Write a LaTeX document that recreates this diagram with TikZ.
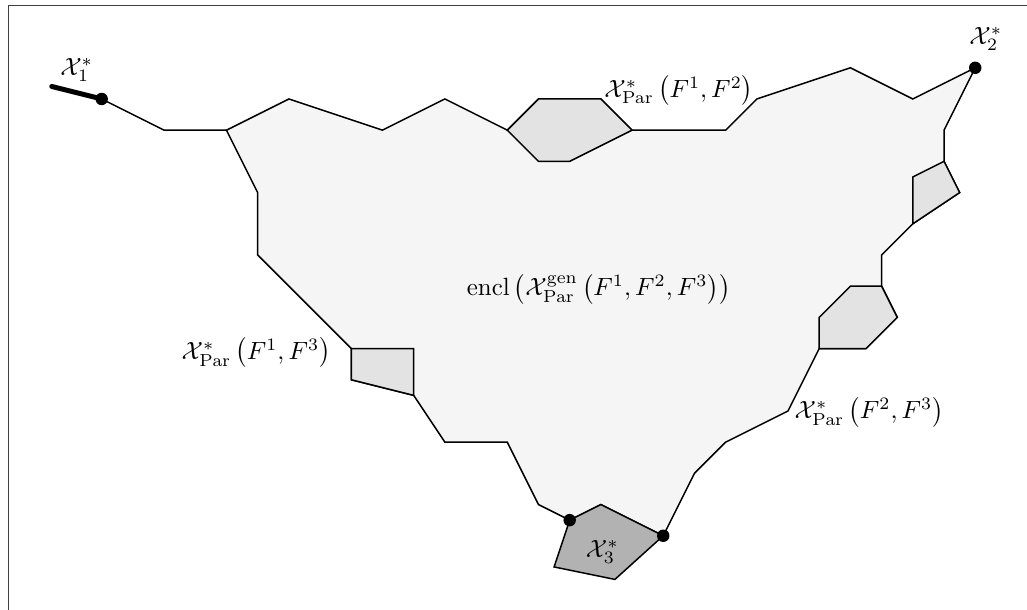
\documentclass[tikz,border=0pt]{standalone}
\usepackage{amsmath}
\begin{document}
\begin{tikzpicture}[x=0.44cm,y=0.44cm,
  edge/.style={draw=black,line width=0.6pt,line join=miter},
  region/.style={edge,fill=black!4},
  facet/.style={edge,fill=black!11},
  vertexfacet/.style={edge,fill=black!30},
  dotmark/.style={circle,fill=black,inner sep=0pt,minimum size=5pt},
  lbl/.style={inner sep=0pt},
  frameline/.style={draw=black!75,line width=0.4pt}]
\useasboundingbox (-3.26,-16.38) rectangle (29.66,3.173);
\clip (-3.26,-16.38) rectangle (29.66,3.173);
\draw[frameline] (-3,3) rectangle (32,-18);
% region
\path[region] (4,-1) -- (6,0) -- (9,-1) -- (11,0) -- (13,-1) -- (14,0) -- (16,0) -- (17,-1)
  -- (20,-1) -- (21,0) -- (24,1) -- (26,0) -- (28,1) -- (27,-1) -- (27,-2) -- (27.5,-3)
  -- (26,-4) -- (25,-5) -- (25,-6) -- (25.5,-7) -- (24.5,-8) -- (23,-8) -- (22,-10)
  -- (20,-11) -- (19,-12) -- (18,-14) -- (16,-13) -- (15,-13.5) -- (14,-13) -- (13,-11)
  -- (11,-11) -- (10,-9.5) -- (8,-9) -- (8,-8) -- (5,-5) -- (5,-3) -- cycle;
% facets
\path[facet] (13,-1) -- (14,0) -- (16,0) -- (17,-1) -- (15,-2) -- (14,-2) -- cycle;
\path[facet] (27,-2) -- (26,-2.5) -- (26,-4) -- (27.5,-3) -- cycle;
\path[facet] (25,-6) -- (24,-6) -- (23,-7) -- (23,-8) -- (24.5,-8) -- (25.5,-7) -- cycle;
\path[facet] (8,-8) -- (10,-8) -- (10,-9.5) -- (8,-9) -- cycle;
\path[vertexfacet] (15,-13.5) -- (16,-13) -- (18,-14) -- (16.45,-15.4) -- (14.5,-15) -- cycle;
% outer path
\coordinate (t0) at (-1.6,0.4);
\node[dotmark] (x1) at (0,0) {};
\coordinate (p1) at (2,-1);
\coordinate (p2) at (4,-1);
\draw[line width=2pt,line cap=round] (t0) -- (x1.center);
\draw[edge] (x1.center) -- (p1) -- (p2);
\node[dotmark] (x2) at (28,1) {};
\node[dotmark] (x3a) at (15,-13.5) {};
\node[dotmark] (x3b) at (18,-14) {};
% labels
\node[lbl] (l1) at (-0.8,0.93) {$\mathcal{X}_1^*$};
\node[lbl] (l2) at (28.34,1.92) {$\mathcal{X}_2^*$};
\node[lbl] (l12) at (18.5,0.26) {$\mathcal{X}^*_{\mathrm{Par}}\left(F^1,F^2\right)$};
\node[lbl] (l13) at (4.95,-8.14) {$\mathcal{X}^*_{\mathrm{Par}}\left(F^1,F^3\right)$};
\node[lbl] (l23) at (24.6,-10.05) {$\mathcal{X}^*_{\mathrm{Par}}\left(F^2,F^3\right)$};
\node[lbl] (enc) at (15.93,-6.1) {$\mathrm{encl}\left(\mathcal{X}^{\mathrm{gen}}_{\mathrm{Par}}\left(F^1,F^2,F^3\right)\right)$};
\node[lbl] (l3) at (16.05,-14.53) {$\mathcal{X}_3^*$};
\end{tikzpicture}
\end{document}
